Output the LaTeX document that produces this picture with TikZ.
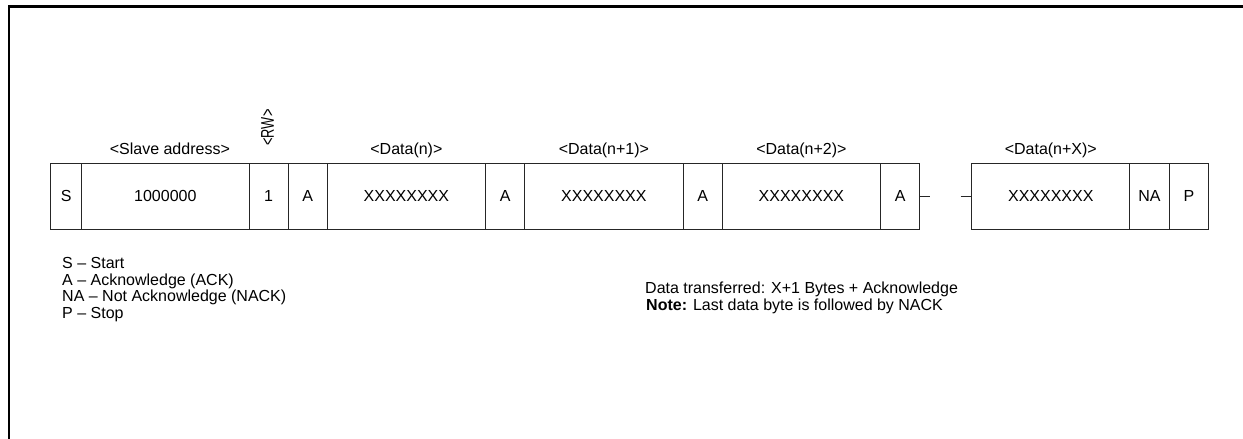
\documentclass[tikz,border=0pt]{standalone}
\usepackage{fontspec}
\setmainfont{Liberation Sans}
\usetikzlibrary{positioning}
\tikzset{
  cell/.style={draw=black!85, line width=0.9pt, minimum height=66pt, inner sep=0pt, outer sep=0pt, anchor=west},
  ackcell/.style={cell, minimum width=39.3pt},
  datacell/.style={cell, minimum width=158.2pt},
  fieldlabel/.style={inner sep=0pt, anchor=base},
  legendtext/.style={inner sep=0pt, anchor=base west},
}
\begin{document}
\begin{tikzpicture}[x=1pt, y=-1pt, font=\fontsize{16}{16.7}\selectfont]
\useasboundingbox (0,0) rectangle (1243,439);
% Frame
\draw[line width=2.6pt] (9,439) -- (9,6.5) -- (1243,6.5);

% Address part
\node[cell, minimum width=31pt] (s) at (50.7,196.3) {S};
\node[cell, minimum width=167.3pt, right=0pt of s] (addr) {1000000};
\node[cell, minimum width=39pt, right=0pt of addr] (rw) {1};
\node[ackcell, right=0pt of rw] (a0) {A};

% Data bytes
\foreach \i [remember=\i as \prev (initially 0)] in {1,2,3} {
    \node[datacell, right=0pt of a\prev] (d\i) {XXXXXXXX};
    \node[ackcell, right=0pt of d\i] (a\i) {A};
}
\coordinate (gapl) at (930,196.3);
\coordinate (gapr) at (960.7,196.3);
\node[datacell] (dx) at (971.7,196.3) {XXXXXXXX};
\node[ackcell, right=0pt of dx] (na) {NA};
\node[ackcell, right=0pt of na] (p) {P};
\draw[draw=black!85, line width=0.9pt] (a3.east) -- (gapl);
\draw[draw=black!85, line width=0.9pt] (gapr) -- (dx.west);

% Field labels
\node[above=9.3pt of addr.north, fieldlabel, xshift=4.5pt] (laddr) {<Slave address>};
\node[rotate=90, xscale=0.8, yscale=1.15, inner sep=0pt] (lrw) at (267.5,127.5) {<RW>};
\foreach \i/\txt in {1/n, 2/n+1, 3/n+2, x/n+X} {
    \node[above=9.3pt of d\i.north, fieldlabel] (l\i) {<Data(\txt)>};
}

% Legend
\foreach \txt [count=\i] in {S -- Start, A -- Acknowledge (ACK), NA -- Not Acknowledge (NACK), P -- Stop} {
    \node[legendtext] (leg\i) at (62,{251.8+16.7*\i}) {\txt};
}
\node[legendtext] (xfer) at (645,293.8) {Data transferred: X+1 Bytes + Acknowledge};
\node[legendtext] (note) at (646,310.5) {\textbf{Note:} Last data byte is followed by NACK};
\end{tikzpicture}
\end{document}
